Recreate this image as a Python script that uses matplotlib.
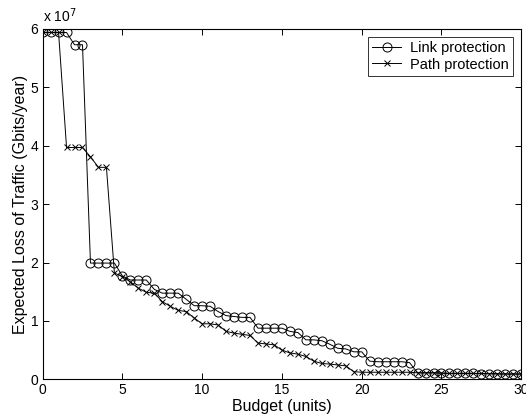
import matplotlib
matplotlib.use('Agg')
import matplotlib.pyplot as plt
import numpy as np

# budget steps (units) and expected loss (x 1e7 Gbits/year)
budget = np.arange(0, 30.5, 0.5)

link_loss = [5.94, 5.94, 5.94, 5.94, 5.73, 5.73, 1.99, 1.99, 1.99, 1.99,
             1.77, 1.70, 1.70, 1.70, 1.54, 1.475, 1.475, 1.475, 1.37, 1.26,
             1.26, 1.25, 1.16, 1.09, 1.075, 1.06, 1.06, 0.875, 0.875, 0.875,
             0.875, 0.82, 0.80, 0.675, 0.675, 0.66, 0.60, 0.53, 0.52, 0.47,
             0.47, 0.31, 0.30, 0.30, 0.30, 0.30, 0.285, 0.11, 0.11, 0.11,
             0.105, 0.10, 0.10, 0.10, 0.10, 0.095, 0.095, 0.09, 0.09, 0.09,
             0.09]

path_loss = [5.94, 5.94, 5.94, 3.97, 3.97, 3.97, 3.81, 3.63, 3.63, 1.82,
             1.76, 1.67, 1.56, 1.49, 1.475, 1.33, 1.25, 1.18, 1.16, 1.05,
             0.95, 0.95, 0.93, 0.82, 0.79, 0.77, 0.75, 0.62, 0.605, 0.59,
             0.50, 0.45, 0.43, 0.39, 0.31, 0.27, 0.26, 0.245, 0.23, 0.13,
             0.12, 0.12, 0.12, 0.12, 0.12, 0.12, 0.12, 0.11, 0.11, 0.11,
             0.105, 0.10, 0.10, 0.10, 0.10, 0.10, 0.095, 0.095, 0.09, 0.09,
             0.09]

plt.rcParams['font.family'] = ['Liberation Sans', 'DejaVu Sans']

fig = plt.figure(figsize=(5.26, 4.2), dpi=100)
ax = fig.add_axes([0.081, 0.097, 0.910, 0.834])

ax.plot(budget, link_loss, '-o', color='k', lw=0.7, ms=6.5,
        mfc='none', mew=0.7, label='Link protection')
ax.plot(budget, path_loss, '-x', color='k', lw=0.7, ms=4,
        mew=0.7, label='Path protection')

ax.set_xlim(0, 30)
ax.set_ylim(0, 6)
ax.set_xticks([0, 5, 10, 15, 20, 25, 30])
ax.set_yticks([0, 1, 2, 3, 4, 5, 6])
ax.tick_params(direction='in', top=True, right=True, labelsize=10,
               length=4, width=0.7, pad=3)
for s in ax.spines.values():
    s.set_linewidth(0.8)

ax.set_xlabel('Budget (units)', fontsize=11.5, labelpad=1)
ax.set_ylabel('Expected Loss of Traffic (Gbits/year)', fontsize=11.5,
              labelpad=2)
ax.text(0.0, 1.01, r'x 10$^7$', transform=ax.transAxes, fontsize=10,
        ha='left', va='bottom')

leg = ax.legend(loc='upper right', fontsize=10.5, frameon=True,
                fancybox=False, edgecolor='k', handlelength=2.0,
                borderpad=0.3, labelspacing=0.15, handletextpad=0.6,
                borderaxespad=0.55)
leg.get_frame().set_linewidth(0.7)

fig.savefig('out.png', dpi=100)
